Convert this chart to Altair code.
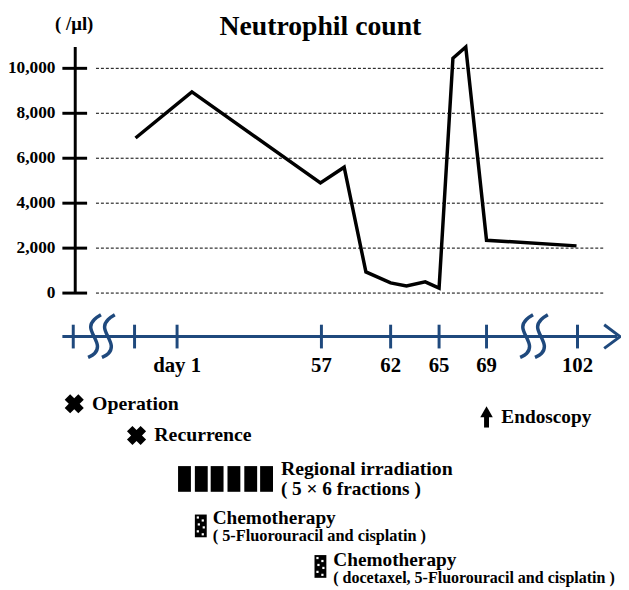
import altair as alt
import pandas as pd

# ---------------- data ----------------
# neutrophil count (/µl) at positions along the drawn (broken) time line
line_pos = [137, 194, 324, 348, 370, 395, 411, 430, 444, 458, 471, 492, 583]
line_count = [6900, 8950, 4900, 5600, 940, 450, 320, 500, 220, 10450, 10950, 2350, 2100]
y_ticks = [0, 2000, 4000, 6000, 8000, 10000]
y_tick_labels = ["0", "2,000", "4,000", "6,000", "8,000", "10,000"]
axis_top = 10950

# time line below the chart
tl_tick_pos = [74, 136, 179, 325, 395, 444, 492, 584]
tl_tick_labels = ["", "", "day 1", "57", "62", "65", "69", "102"]
break_centres = [95, 109, 532, 547]

# ---------------- layout ----------------
FONT = "Liberation Serif"
BLUE = "#1F497D"
TOP, H = 8, 582
LEFT, W = 76, 552
Y0_PX, PX_PER_COUNT = 293, 0.02273
TL_Y = 337

y_dom = [(Y0_PX - (TOP + H)) / PX_PER_COUNT, (Y0_PX - TOP) / PX_PER_COUNT]
xs = alt.Scale(domain=[LEFT, LEFT + W], nice=False, zero=False)
ysA = alt.Scale(domain=y_dom, nice=False, zero=False)
ysB = alt.Scale(domain=[TOP, TOP + H], nice=False, zero=False, reverse=True)


def ax(field):
    return alt.X(f"{field}:Q", scale=xs, axis=None)


def ayA(field="count"):
    return alt.Y(f"{field}:Q", scale=ysA, axis=None)


def ayB(field="y"):
    return alt.Y(f"{field}:Q", scale=ysB, axis=None)


# ---------------- upper chart ----------------
grid = alt.Chart(pd.DataFrame({"count": y_ticks, "x1": 97, "x2": 612})).mark_rule(
    color="black", strokeWidth=1, strokeDash=[3, 2]).encode(
    x=ax("x1"), x2="x2:Q", y=ayA())
ytick = alt.Chart(pd.DataFrame({"count": y_ticks, "x1": 63, "x2": 88})).mark_rule(
    color="black", strokeWidth=3).encode(x=ax("x1"), x2="x2:Q", y=ayA())
ylab = alt.Chart(pd.DataFrame({"count": y_ticks, "x": 56, "t": y_tick_labels})).mark_text(
    font=FONT, fontWeight="bold", fontSize=17.5, align="right", baseline="middle", color="black").encode(
    x=ax("x"), y=ayA(), text="t:N")
yline = alt.Chart(pd.DataFrame({"x": [LEFT], "c0": [0], "c1": [axis_top]})).mark_rule(
    color="black", strokeWidth=3).encode(x=ax("x"), y=ayA("c0"), y2="c1:Q")
line = alt.Chart(pd.DataFrame({"pos": line_pos, "count": line_count})).mark_line(
    color="black", strokeWidth=3.5, strokeJoin="miter").encode(x=ax("pos"), y=ayA())
upper = alt.layer(grid, ytick, ylab, yline, line)

# ---------------- lower time line and annotations ----------------
tl = alt.Chart(pd.DataFrame({"x": [63], "x2": [624], "y": [TL_Y]})).mark_rule(
    color=BLUE, strokeWidth=3).encode(x=ax("x"), x2="x2:Q", y=ayB())

tl_ticks = alt.Chart(pd.DataFrame({"x": tl_tick_pos, "y": TL_Y - 12, "y2": TL_Y + 12})).mark_rule(
    color=BLUE, strokeWidth=3).encode(x=ax("x"), y=ayB(), y2="y2:Q")

tl_labels = alt.Chart(pd.DataFrame({"x": tl_tick_pos, "y": TL_Y + 30, "t": tl_tick_labels})).mark_text(
    font=FONT, fontWeight="bold", fontSize=21, color="black", baseline="middle").encode(
    x=ax("x"), y=ayB(), text="t:N")

arrow = alt.Chart(pd.DataFrame({"x": [611, 627, 611], "y": [TL_Y - 12, TL_Y, TL_Y + 12],
                                "o": [0, 1, 2]})).mark_line(
    color=BLUE, strokeWidth=3, strokeJoin="miter").encode(x=ax("x"), y=ayB(), order="o:Q")

s_dx = [7, 0, -5, 0, 5, 1, -6]
s_dy = [-22, -18, -10, 0, 10, 18, 21]
brk_rows = []
for b, c in enumerate(break_centres):
    for i, (dx, dy) in enumerate(zip(s_dx, s_dy)):
        brk_rows.append({"b": b, "o": i, "x": c + dx, "y": TL_Y + dy})
breaks = alt.Chart(pd.DataFrame(brk_rows)).mark_line(
    color=BLUE, strokeWidth=3.5, interpolate="basis", strokeCap="butt").encode(
    x=ax("x"), y=ayB(), detail="b:N", order="o:Q")

# event markers
cross = alt.Chart(pd.DataFrame({"x": [75, 138], "y": [405, 437]})).mark_point(
    shape="cross", angle=45, filled=True, size=380, color="black", opacity=1).encode(x=ax("x"), y=ayB())
endo_stem = alt.Chart(pd.DataFrame({"x": [492], "y": [415], "y2": [429]})).mark_rule(
    color="black", strokeWidth=5).encode(x=ax("x"), y=ayB(), y2="y2:Q")
endo_head = alt.Chart(pd.DataFrame({"x": [492], "y": [413]})).mark_point(
    shape="triangle-up", filled=True, size=160, color="black", opacity=1).encode(x=ax("x"), y=ayB())

# irradiation fractions (6 blocks)
frac_start = [180, 197, 213, 230, 247, 263]
irr = alt.Chart(pd.DataFrame({"x": frac_start, "x2": [s + 13 for s in frac_start],
                              "y": 468, "y2": 494})).mark_rect(color="black").encode(
    x=ax("x"), x2="x2:Q", y=ayB(), y2="y2:Q")

# chemotherapy boxes with white dots
chemo_boxes = [(197, 517), (318, 558)]
chemo = alt.Chart(pd.DataFrame({"x": [c[0] for c in chemo_boxes], "x2": [c[0] + 12 for c in chemo_boxes],
                                "y": [c[1] for c in chemo_boxes], "y2": [c[1] + 23 for c in chemo_boxes]})
                  ).mark_rect(color="black").encode(x=ax("x"), x2="x2:Q", y=ayB(), y2="y2:Q")
dot_off = [(3, 3), (8, 6), (4, 10), (9, 13), (3, 17), (8, 20)]
dots = alt.Chart(pd.DataFrame([{"x": cx + dx, "y": cy + dy} for cx, cy in chemo_boxes for dx, dy in dot_off])
                 ).mark_square(color="white", size=5, opacity=1).encode(x=ax("x"), y=ayB())

# texts
txt_df = pd.DataFrame([
    {"x": 75, "y": 21, "t": "( /μl)", "s": 19, "a": "center"},
    {"x": 324, "y": 24, "t": "Neutrophil count", "s": 28, "a": "center"},
    {"x": 93, "y": 405, "t": "Operation", "s": 20, "a": "left"},
    {"x": 156, "y": 437, "t": "Recurrence", "s": 20, "a": "left"},
    {"x": 507, "y": 418, "t": "Endoscopy", "s": 19.5, "a": "left"},
    {"x": 284, "y": 471, "t": "Regional irradiation", "s": 20, "a": "left"},
    {"x": 284, "y": 491, "t": "( 5 × 6 fractions )", "s": 19.5, "a": "left"},
    {"x": 215, "y": 521, "t": "Chemotherapy", "s": 19.5, "a": "left"},
    {"x": 215, "y": 539, "t": "( 5-Fluorouracil and cisplatin )", "s": 16.5, "a": "left"},
    {"x": 337, "y": 563, "t": "Chemotherapy", "s": 19.5, "a": "left"},
    {"x": 337, "y": 581, "t": "( docetaxel, 5-Fluorouracil and cisplatin )", "s": 16.2, "a": "left"},
])
texts = []
for (s, a), g in txt_df.groupby(["s", "a"]):
    texts.append(alt.Chart(g).mark_text(font=FONT, fontWeight="bold", fontSize=float(s), align=a,
                                        baseline="middle", color="black").encode(
        x=ax("x"), y=ayB(), text="t:N"))

lower = alt.layer(tl, tl_ticks, tl_labels, arrow, breaks, cross, endo_stem, endo_head,
                  irr, chemo, dots, *texts)

chart = alt.layer(upper, lower).resolve_scale(y="independent").properties(
    width=W, height=H,
    autosize=alt.AutoSizeParams(type="none"),
    padding={"left": LEFT - 8, "top": 0, "right": 0, "bottom": 0},
).configure_view(stroke=None)

chart.save("out.html", embed_options={"renderer": "svg", "actions": False})
